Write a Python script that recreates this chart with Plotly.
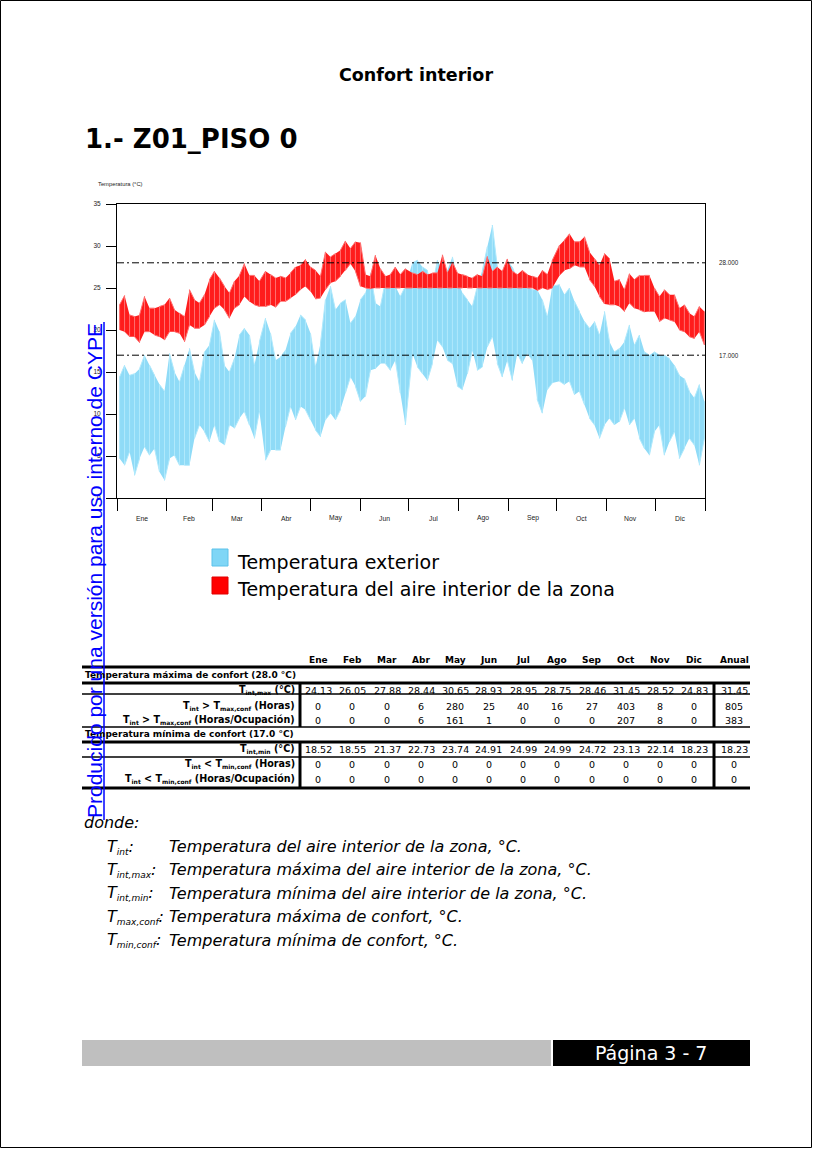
import plotly.graph_objects as go

W, H = 813, 1149
def X(px): return px / W
def Y(py): return 1 - py / H

# ---------------- data ----------------
MONTHS = ["Ene", "Feb", "Mar", "Abr", "May", "Jun", "Jul", "Ago", "Sep", "Oct", "Nov", "Dic"]
MONTH_START = [0, 31, 59, 90, 120, 151, 181, 212, 243, 273, 304, 334, 365]
Y_TICKS = [0, 5, 10, 15, 20, 25, 30, 35]
T_MAX_CONF = 28.0
T_MIN_CONF = 17.0

DAYS = [1.6, 4.7, 7.8, 10.9, 14.0, 17.1, 20.2, 23.3, 26.4, 29.5, 32.6, 35.7, 38.8, 41.9, 45.0,
        48.1, 51.2, 54.3, 57.4, 60.5, 63.6, 66.7, 69.8, 72.9, 76.0, 79.1, 82.2, 85.3, 88.4,
        92.2, 95.3, 98.4, 101.5, 104.6, 107.7, 110.8, 113.9, 117.0, 120.1, 123.2, 126.3, 129.4,
        132.5, 135.6, 138.7, 141.8, 144.9, 148.0, 151.1, 154.2, 157.3, 160.4, 163.5, 166.6,
        169.7, 172.8, 175.9, 179.0,
        183.4, 186.5, 189.6, 192.7, 195.8, 198.9, 202.0, 205.1, 208.2, 211.3, 214.4, 217.5,
        220.6, 223.7, 226.8, 229.9, 233.0, 236.1, 239.2, 242.3, 245.4, 248.5, 251.6, 254.7,
        257.8, 260.9, 264.0, 267.1, 270.2,
        274.7, 277.8, 280.9, 284.0, 287.1, 290.2, 293.3, 296.4, 299.5, 302.6, 305.7, 308.8,
        311.9, 315.0, 318.1, 321.2, 324.3, 327.4, 330.5, 333.6, 336.7, 339.8, 342.9, 346.0,
        349.1, 352.2, 355.3, 358.4, 361.5, 364.6]

INT_HI = [23.0, 24.1, 21.8, 21.6, 21.8, 24.0, 22.6, 22.6, 22.8, 23.0, 23.8, 22.4, 22.0, 21.6, 24.8,
          23.6, 23.2, 24.2, 26.0, 27.0, 26.2, 25.2, 24.4, 25.8, 26.5, 27.9, 26.5, 26.5, 25.8,
          27.0, 26.6, 26.2, 26.4, 26.2, 26.8, 27.5, 27.7, 28.4, 27.5, 27.1, 26.4, 29.3, 28.7, 29.1,
          29.5, 30.6, 29.7, 30.5, 30.4, 26.6, 26.4, 28.9, 27.3, 26.4, 26.6, 27.5, 26.6, 27.3,
          26.8, 26.6, 27.0, 26.6, 26.8, 26.8, 28.95, 26.8, 28.1, 26.8, 26.6, 26.4, 26.2, 26.6, 26.4,
          28.75, 27.0, 27.5, 27.0, 28.46, 27.0, 26.6, 27.1, 26.6, 26.4, 26.2, 27.1, 26.6, 28.3,
          30.1, 30.7, 31.45, 30.5, 30.5, 31.1, 29.3, 28.5, 27.7, 29.1, 28.5, 25.8, 26.0, 24.8, 26.7,
          26.0, 26.5, 26.5, 26.5, 25.0, 24.0, 24.8, 24.2, 24.2, 22.6, 23.0, 22.0, 21.6, 22.8, 22.2]
INT_LO = [20.0, 19.8, 19.2, 19.2, 18.5, 19.8, 19.8, 19.4, 19.2, 18.8, 19.8, 19.8, 19.6, 18.6, 20.6,
          20.2, 20.2, 20.6, 21.6, 22.6, 23.0, 22.4, 21.4, 22.6, 23.0, 24.0, 23.4, 23.0, 22.8,
          22.8, 23.0, 22.7, 23.4, 23.4, 23.8, 24.2, 24.8, 25.2, 24.6, 23.7, 23.8, 24.8, 25.6, 25.8,
          26.4, 27.1, 27.9, 27.0, 25.2, 25.0, 24.9, 25.0, 25.0, 25.0, 25.0, 25.0, 25.0, 25.0,
          25.0, 25.0, 25.0, 25.0, 25.0, 25.0, 25.0, 25.0, 25.0, 25.0, 25.0, 25.0, 25.0, 25.0, 25.0,
          25.0, 25.0, 25.0, 25.0, 25.0, 25.0, 25.0, 25.0, 25.0, 25.0, 24.7, 25.0, 24.8, 25.0,
          26.5, 27.1, 27.3, 27.7, 27.5, 27.5, 26.0, 25.2, 24.0, 23.1, 23.0, 23.0, 22.8, 22.2, 23.2,
          22.6, 22.4, 22.14, 22.2, 22.2, 21.0, 21.4, 21.2, 21.0, 20.0, 19.8, 19.2, 19.0, 19.8, 18.23]
EXT_HI = [14.4, 15.8, 14.6, 14.8, 15.4, 17.0, 15.8, 14.6, 13.5, 12.7, 17.2, 15.0, 13.8, 15.8, 17.8,
          15.0, 13.8, 17.4, 18.2, 21.2, 19.8, 15.8, 15.0, 16.6, 19.4, 20.2, 19.4, 15.8, 18.6,
          21.4, 19.6, 16.4, 16.8, 17.6, 19.6, 20.4, 21.8, 21.2, 19.6, 15.6, 18.4, 23.6, 25.2, 22.4,
          23.2, 23.6, 20.8, 21.6, 23.6, 24.4, 26.8, 23.2, 22.8, 25.8, 25.2, 25.2, 24.0, 25.2,
          28.0, 28.3, 27.5, 27.1, 25.2, 28.3, 27.1, 27.1, 28.7, 26.0, 24.4, 23.6, 22.8, 25.2, 27.1,
          29.9, 32.5, 27.5, 26.8, 28.3, 27.5, 26.0, 26.0, 25.2, 24.8, 24.8, 23.6, 21.6, 25.2,
          25.4, 24.2, 25.0, 23.4, 22.2, 21.0, 20.2, 21.0, 19.4, 22.2, 18.6, 17.4, 17.8, 18.6, 20.6,
          18.2, 19.4, 17.4, 17.0, 17.4, 17.0, 17.0, 16.6, 15.8, 14.6, 14.2, 12.7, 11.9, 13.5, 11.5]
EXT_LO = [4.7, 3.9, 5.5, 2.7, 4.7, 6.1, 5.1, 5.9, 3.1, 2.1, 4.7, 5.1, 3.9, 3.9, 3.9,
          7.1, 8.7, 7.9, 6.7, 8.7, 6.7, 6.3, 8.7, 8.3, 9.5, 10.3, 8.7, 7.1, 10.3,
          4.5, 5.7, 5.7, 5.7, 8.5, 10.9, 9.3, 10.9, 10.5, 9.3, 8.1, 7.3, 9.3, 10.1, 9.3,
          10.5, 12.5, 14.4, 13.3, 11.5, 12.1, 15.2, 15.4, 16.0, 16.0, 15.2, 16.4, 12.5, 8.7,
          17.2, 15.6, 14.8, 14.0, 16.0, 18.8, 18.0, 16.4, 16.0, 13.3, 12.9, 14.8, 17.6, 15.2, 15.6,
          18.0, 19.2, 16.0, 14.4, 16.4, 14.0, 17.2, 16.0, 17.2, 16.4, 11.7, 10.1, 12.9, 13.7,
          13.9, 13.5, 13.9, 12.3, 12.7, 11.1, 9.5, 8.7, 7.1, 8.7, 9.5, 8.7, 9.1, 10.7, 8.7,
          9.5, 7.1, 5.9, 5.1, 7.9, 8.7, 5.1, 6.7, 7.9, 4.7, 5.9, 7.1, 6.3, 3.9, 7.1]

TABLE_COLS = MONTHS + ["Anual"]
TINT_MAX = ["24.13", "26.05", "27.88", "28.44", "30.65", "28.93", "28.95", "28.75", "28.46", "31.45", "28.52", "24.83", "31.45"]
H_OVER = ["0", "0", "0", "6", "280", "25", "40", "16", "27", "403", "8", "0", "805"]
H_OVER_OCC = ["0", "0", "0", "6", "161", "1", "0", "0", "0", "207", "8", "0", "383"]
TINT_MIN = ["18.52", "18.55", "21.37", "22.73", "23.74", "24.91", "24.99", "24.99", "24.72", "23.13", "22.14", "18.23", "18.23"]
H_UNDER = ["0"] * 13
H_UNDER_OCC = ["0"] * 13

SERIES_NAMES = ["Temperatura exterior", "Temperatura del aire interior de la zona"]

# ---------------- styles ----------------
EXT_FILL, EXT_LINE = "#8fdbf7", "#b0e9fc"
INT_FILL, INT_LINE = "#ff1c1c", "#ff7070"
VERD = "DejaVu Sans"
ARIAL = "Liberation Sans"

fig = go.Figure()

def band(days, hi, lo, fill, line, name):
    fig.add_trace(go.Scatter(x=list(days) + list(days)[::-1], y=list(hi) + list(lo)[::-1],
                             fill="toself", fillcolor=fill, line=dict(width=0), mode="lines",
                             hoverinfo="skip", showlegend=False))
    xs, ys = [], []
    for k, (d, h, l) in enumerate(zip(days, hi, lo)):
        if k % 2 == 0:
            xs += [d, d]; ys += [l, h]
        else:
            xs += [d, d]; ys += [h, l]
    fig.add_trace(go.Scatter(x=xs, y=ys, mode="lines", line=dict(color=line, width=1),
                             name=name, showlegend=False))

band(DAYS, EXT_HI, EXT_LO, EXT_FILL, EXT_LINE, SERIES_NAMES[0])
band(DAYS, INT_HI, INT_LO, INT_FILL, INT_LINE, SERIES_NAMES[1])

fig.update_layout(
    width=W, height=H, margin=dict(l=0, r=0, t=0, b=0, pad=0, autoexpand=False),
    paper_bgcolor="white", plot_bgcolor="white", showlegend=False,
    xaxis=dict(domain=[X(117), X(705)], range=[0, 365], tickvals=MONTH_START, ticktext=[""] * 13,
               ticks="outside", ticklen=12, tickcolor="black", tickwidth=1,
               showline=True, mirror=True, linecolor="black", linewidth=1, automargin=False,
               showgrid=False, zeroline=False, fixedrange=True),
    yaxis=dict(domain=[Y(498), Y(204)], range=[0, 35], tickvals=Y_TICKS,
               ticks="outside", ticklen=10, tickcolor="black", tickwidth=1,
               tickfont=dict(family=ARIAL, size=6.5, color="#222"), ticklabelstandoff=4,
               showline=True, mirror=True, linecolor="black", linewidth=1, automargin=False,
               showgrid=False, zeroline=False, fixedrange=True),
)

shapes = []
ann = []

def text(px, py, s, size, family=VERD, color="black", xanchor="left", bold=False, italic=False, **kw):
    if bold:
        s = "<b>" + s + "</b>"
    if italic:
        s = "<i>" + s + "</i>"
    ann.append(dict(x=X(px), y=Y(py), xref="paper", yref="paper", text=s, showarrow=False,
                    xanchor=xanchor, yanchor="middle", font=dict(family=family, size=size, color=color), **kw))

def hline(x0, x1, py, w, color="black"):
    shapes.append(dict(type="line", xref="paper", yref="paper", x0=X(x0), x1=X(x1), y0=Y(py), y1=Y(py),
                       line=dict(color=color, width=w)))

def vline(px, y0, y1, w, color="black"):
    shapes.append(dict(type="line", xref="paper", yref="paper", x0=X(px), x1=X(px), y0=Y(y0), y1=Y(y1),
                       line=dict(color=color, width=w)))

def rect(x0, y0, x1, y1, fill, line=None, lw=0):
    shapes.append(dict(type="rect", xref="paper", yref="paper", x0=X(x0), x1=X(x1), y0=Y(y0), y1=Y(y1),
                       fillcolor=fill, line=dict(color=line or fill, width=lw)))

def sub(s, px):
    return f"<sub><span style='font-size:{px}px'>{s}</span></sub>"

# page border
shapes.append(dict(type="rect", xref="paper", yref="paper", x0=X(0.5), x1=X(811.5), y0=Y(0.5), y1=Y(1147.5),
                   line=dict(color="black", width=1), fillcolor="rgba(0,0,0,0)", layer="below"))

# comfort lines
for val in (T_MAX_CONF, T_MIN_CONF):
    shapes.append(dict(type="line", xref="x", yref="y", x0=0, x1=365, y0=val, y1=val,
                       line=dict(color="black", width=1, dash="7px,3px,2px,3px")))
    ann.append(dict(x=X(729), y=val, xref="paper", yref="y", text=f"{val:.3f}", showarrow=False,
                    xanchor="center", yanchor="middle", font=dict(family=ARIAL, size=6.3, color="#222")))

# month labels
for i, m in enumerate(MONTHS):
    ann.append(dict(x=(MONTH_START[i] + MONTH_START[i + 1]) / 2, y=Y(518), xref="x", yref="paper", text=m,
                    showarrow=False, xanchor="center", yanchor="middle",
                    font=dict(family=ARIAL, size=6.8, color="#222")))

text(96, 184, "Temperatura (°C)", 5.8, family=ARIAL, color="#222")

# titles
text(416, 75, "Confort interior", 17.5, xanchor="center", bold=True)
text(83, 139, "1.- Z01_PISO 0", 26, bold=True)

# legend
rect(212, 549, 228, 566, "#7fd6f6", "#5cc2ea", 1)
rect(212, 577, 228, 594, "#ff0000", "#e00000", 1)
text(235, 562, SERIES_NAMES[0], 19)
text(235, 589, SERIES_NAMES[1], 19)

# table
COL_X = [318, 352, 387, 421, 455, 489, 523, 557, 592, 626, 660, 694, 734]
for cx, c in zip(COL_X, TABLE_COLS):
    text(cx, 660, c, 9, xanchor="center", bold=True)
hline(82, 750, 667, 3)
text(83, 675, f"Temperatura máxima de confort ({T_MAX_CONF:.1f} °C)", 9, bold=True)
hline(82, 750, 683, 3)
hline(82, 750, 694, 1.3)
hline(82, 750, 727, 1.3)
text(83, 734, f"Temperatura mínima de confort ({T_MIN_CONF:.1f} °C)", 9, bold=True)
hline(82, 750, 742, 3)
hline(82, 750, 757, 1.3)
hline(82, 750, 788, 3)
for vx in (300, 714):
    vline(vx, 683, 727, 3)
    vline(vx, 742, 788, 3)

rows = [
    (690, "T" + sub("int,max", 6) + " (°C)", TINT_MAX),
    (706, "T" + sub("int", 6) + " &gt; T" + sub("max,conf", 6) + " (Horas)", H_OVER),
    (720, "T" + sub("int", 6) + " &gt; T" + sub("max,conf", 6) + " (Horas/Ocupación)", H_OVER_OCC),
    (749, "T" + sub("int,min", 6) + " (°C)", TINT_MIN),
    (764, "T" + sub("int", 6) + " &lt; T" + sub("min,conf", 6) + " (Horas)", H_UNDER),
    (779, "T" + sub("int", 6) + " &lt; T" + sub("min,conf", 6) + " (Horas/Ocupación)", H_UNDER_OCC),
]
for ry, label, vals in rows:
    text(297, ry, label, 9.6, xanchor="right", bold=True)
    for cx, v in zip(COL_X, vals):
        text(cx, ry, v, 9.5, xanchor="center")

# definitions
text(82, 822, "donde:", 16, italic=True)
defs = [
    ("T" + sub("int", 9) + ":", "Temperatura del aire interior de la zona, °C."),
    ("T" + sub("int,max", 9) + ":", "Temperatura máxima del aire interior de la zona, °C."),
    ("T" + sub("int,min", 9) + ":", "Temperatura mínima del aire interior de la zona, °C."),
    ("T" + sub("max,conf", 9) + ":", "Temperatura máxima de confort, °C."),
    ("T" + sub("min,conf", 9) + ":", "Temperatura mínima de confort, °C."),
]
for i, (a, b) in enumerate(defs):
    yy = 846.5 + i * 23.4
    text(105, yy, a, 16, italic=True)
    text(167, yy, b, 16, italic=True)

# footer
rect(82, 1040, 551, 1066, "#bfbfbf")
rect(553, 1040, 750, 1066, "#000000")
text(651, 1053, "Página 3 - 7", 19, xanchor="center", color="white")

# watermark
ann.append(dict(x=X(94), y=Y(571), xref="paper", yref="paper",
                text="Producido por una versión para uso interno de CYPE", textangle=-90,
                showarrow=False, xanchor="center", yanchor="middle",
                font=dict(family=ARIAL, size=21, color="#0000ff")))
vline(104, 322, 820, 1.5, color="#0000ff")

fig.update_layout(shapes=shapes, annotations=ann)

fig.write_html("out.html", config={"displayModeBar": False},
               post_script="document.body.style.margin='0';document.documentElement.style.overflow='hidden';")
